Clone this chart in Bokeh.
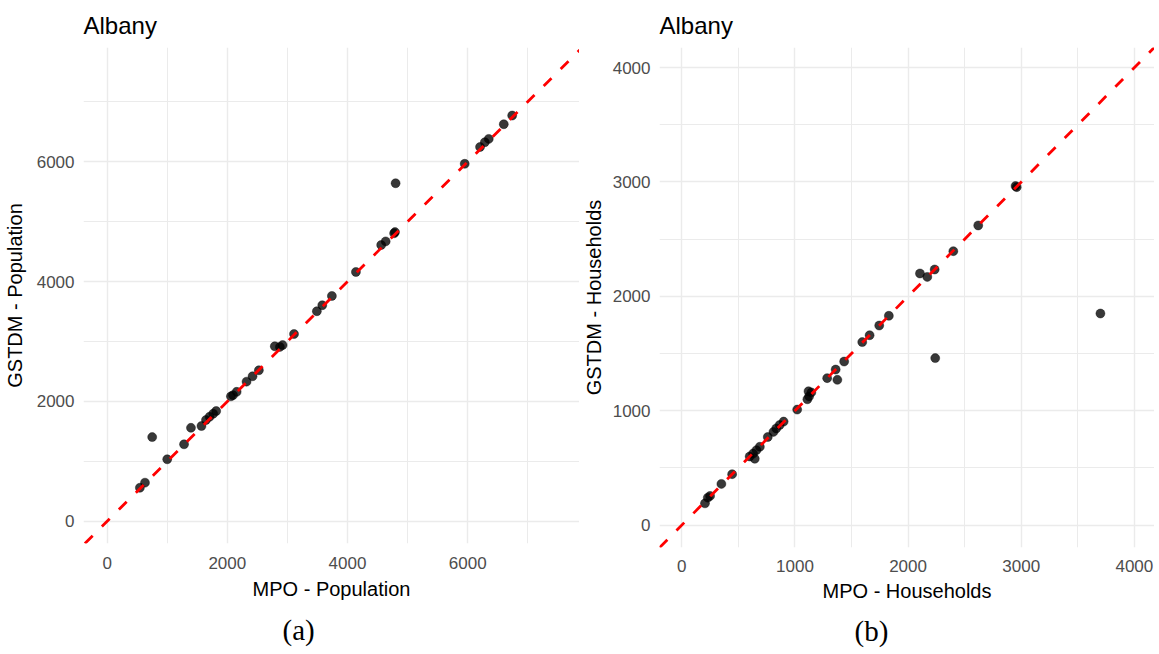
from bokeh.plotting import figure
from bokeh.layouts import row
from bokeh.models import Range1d, FixedTicker, Slope, Title, ColumnDataSource
from bokeh.embed import file_html
from bokeh.resources import INLINE

# ---- data ----
mpo_pop = [6740, 6600, 6350, 6285, 6205, 5950, 4800, 4790, 4775, 4635, 4560, 4140,
           3740, 3580, 3490, 3110, 2920, 2875, 2790, 2525, 2420, 2320, 2155, 2095,
           2060, 1815, 1765, 1705, 1645, 1570, 1395, 1280, 750, 1000, 630, 545]
gstdm_pop = [6770, 6625, 6380, 6325, 6245, 5965, 5640, 4825, 4805, 4670, 4610, 4160,
             3760, 3605, 3505, 3125, 2940, 2910, 2920, 2520, 2420, 2330, 2160, 2105,
             2085, 1840, 1795, 1745, 1690, 1590, 1560, 1285, 1405, 1035, 645, 560]

mpo_hh = [2960, 2950, 2620, 2400, 2235, 2170, 2105, 3700, 1830, 1745, 1660, 1595,
          2240, 1435, 1360, 1375, 1285, 1145, 1125, 1110, 1120, 1020, 900, 865, 835,
          810, 760, 690, 660, 630, 645, 600, 445, 350, 250, 230, 205]
gstdm_hh = [2955, 2965, 2620, 2395, 2235, 2170, 2200, 1850, 1830, 1745, 1660, 1600,
            1460, 1430, 1360, 1270, 1285, 1160, 1125, 1100, 1170, 1010, 905, 875, 845,
            815, 770, 685, 655, 625, 580, 600, 445, 360, 255, 240, 190]

pop_major = [0, 2000, 4000, 6000]
pop_minor = [1000, 3000, 5000, 7000]
hh_major = [0, 1000, 2000, 3000, 4000]
hh_minor = [500, 1500, 2500, 3500]

titles = ["Albany", "Albany"]
xlabels = ["MPO - Population", "MPO - Households"]
ylabels = ["GSTDM - Population", "GSTDM - Households"]
captions = ["(a)", "(b)"]

SANS = "Liberation Sans"
SERIF = "Liberation Serif"


def make_panel(x, y, xr, yr, major, minor, title, xlab, ylab, caption,
               fw, fh, mbl, mbt, mbb, cap_offset, ylab_standoff,
               title_standoff, tick_standoff, xlab_standoff, cap_standoff):
    p = figure(frame_width=fw, frame_height=fh,
               x_range=Range1d(*xr), y_range=Range1d(*yr),
               min_border_left=mbl, min_border_right=0,
               min_border_top=mbt, min_border_bottom=mbb,
               output_backend="svg", toolbar_location=None,
               title=title, x_axis_label=xlab, y_axis_label=ylab)
    p.outline_line_color = None
    p.background_fill_color = "white"
    p.border_fill_color = "white"

    p.title.text_font = SANS
    p.title.text_font_size = "24px"
    p.title.text_font_style = "normal"
    p.title.text_color = "black"
    p.title.align = "left"
    p.title.standoff = title_standoff

    for ax in (p.xaxis[0], p.yaxis[0]):
        ax.ticker = FixedTicker(ticks=major, minor_ticks=minor)
        ax.axis_line_color = None
        ax.major_tick_line_color = None
        ax.minor_tick_line_color = None
        ax.major_tick_out = 0
        ax.major_tick_in = 0
        ax.minor_tick_out = 0
        ax.major_label_text_font = SANS
        ax.major_label_text_font_size = "17px"
        ax.major_label_text_color = "#4D4D4D"
        ax.axis_label_text_font = SANS
        ax.axis_label_text_font_size = "20px"
        ax.axis_label_text_font_style = "normal"
        ax.axis_label_text_color = "black"
        ax.major_label_standoff = 9
    p.xaxis[0].major_label_standoff = tick_standoff
    p.xaxis[0].axis_label_standoff = xlab_standoff
    p.yaxis[0].axis_label_standoff = ylab_standoff

    for g in (p.xgrid[0], p.ygrid[0]):
        g.grid_line_color = "#EBEBEB"
        g.grid_line_width = 1.4
        g.minor_grid_line_color = "#EBEBEB"
        g.minor_grid_line_width = 1.0

    src = ColumnDataSource(dict(x=x, y=y))
    p.scatter("x", "y", source=src, size=9, marker="circle",
              fill_color="black", fill_alpha=0.78,
              line_color="black", line_alpha=0.78, line_width=0.5)

    p.add_layout(Slope(gradient=1, y_intercept=0, line_color="red",
                       line_width=2.8, line_dash="11 13"))

    cap = Title(text=caption, align="left", offset=cap_offset,
                text_font=SERIF, text_font_size="29px",
                text_font_style="normal", text_color="black",
                standoff=cap_standoff)
    p.add_layout(cap, "below")
    return p


p1 = make_panel(mpo_pop, gstdm_pop, (-393, 7860), (-370, 7905),
                pop_major, pop_minor, titles[0], xlabels[0], ylabels[0], captions[0],
                fw=496, fh=496, mbl=78, mbt=46, mbb=96, cap_offset=199,
                ylab_standoff=8, title_standoff=18, tick_standoff=13,
                xlab_standoff=6, cap_standoff=18)
p2 = make_panel(mpo_hh, gstdm_hh, (-197, 4178), (-196, 4176),
                hh_major, hh_minor, titles[1], xlabels[1], ylabels[1], captions[1],
                fw=495, fh=500, mbl=73, mbt=46, mbb=92, cap_offset=195,
                ylab_standoff=5, title_standoff=18, tick_standoff=12,
                xlab_standoff=5, cap_standoff=16)

layout = row(p1, p2)
open("out.html", "w").write(file_html(layout, INLINE))
